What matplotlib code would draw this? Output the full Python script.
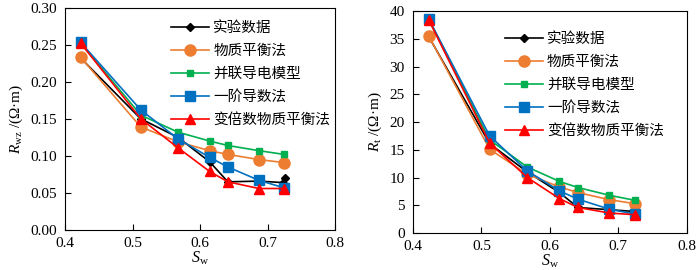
import matplotlib
matplotlib.use("Agg")
import matplotlib.pyplot as plt
import numpy as np

plt.rcParams['font.family'] = ['Liberation Serif', 'Noto Sans CJK SC']
plt.rcParams['mathtext.fontset'] = 'custom'
plt.rcParams['mathtext.rm'] = 'Liberation Serif'
plt.rcParams['mathtext.it'] = 'Liberation Serif:italic'

# water saturation
sw = [0.423, 0.512, 0.567, 0.614, 0.641, 0.687, 0.724]
sw_exp = [0.423, 0.512, 0.567, 0.614, 0.641, 0.687, 0.722, 0.725]

labels = ["实验数据", "物质平衡法", "并联导电模型", "一阶导数法", "变倍数物质平衡法"]

# left panel: Rwz
rwz_exp = [0.232, 0.150, 0.125, 0.092, 0.065, 0.066, 0.064, 0.070]
rwz_mb = [0.233, 0.139, 0.119, 0.107, 0.102, 0.095, 0.091]
rwz_par = [0.252, 0.155, 0.132, 0.120, 0.114, 0.107, 0.102]
rwz_deriv = [0.253, 0.162, 0.123, 0.098, 0.085, 0.067, 0.057]
rwz_var = [0.252, 0.150, 0.111, 0.079, 0.065, 0.056, 0.056]

# right panel: Rt
rt_exp = [35.4, 16.1, 11.0, 7.3, 4.6, 4.2, 3.9, 3.9]
rt_mb = [35.5, 15.1, 10.6, 8.3, 7.3, 6.0, 5.3]
rt_par = [38.5, 16.8, 11.9, 9.3, 8.2, 6.8, 5.9]
rt_deriv = [38.6, 17.5, 11.2, 7.6, 6.1, 4.3, 3.4]
rt_var = [38.4, 16.2, 10.0, 6.2, 4.6, 3.6, 3.3]

colors = ["black", "#ED7D31", "#00B050", "#0070C0", "#FF0000"]
markers = ["D", "o", "s", "s", "^"]
msizes = [4.5, 8, 5, 7, 7]

fig = plt.figure(figsize=(7, 2.7), dpi=100)
ax1 = fig.add_axes([0.093, 0.148, 0.386, 0.824])
ax2 = fig.add_axes([0.590, 0.137, 0.391, 0.822])


def draw(ax, series, ylim, yticks, yfmt, ylabel, anchor):
    xs = [sw_exp, sw, sw, sw, sw]
    for i, ys in enumerate(series):
        ax.plot(xs[i], ys, color=colors[i], marker=markers[i], ms=msizes[i],
                lw=1.2, label=labels[i], zorder=2 + i)
    ax.set_xlim(0.4, 0.8)
    ax.set_xticks(np.arange(0.4, 0.81, 0.1))
    ax.set_xticklabels(["0.4", "0.5", "0.6", "0.7", "0.8"])
    ax.set_ylim(*ylim)
    ax.set_yticks(yticks)
    ax.set_yticklabels([yfmt.format(v) for v in yticks])
    ax.tick_params(direction="in", labelsize=11, length=4)
    ax.tick_params(axis="x", pad=5)
    ax.tick_params(axis="y", pad=6)
    ax.set_xlabel(r"$S_{\mathrm{w}}$", fontsize=11.5, labelpad=0)
    ax.set_ylabel(ylabel, fontsize=11, labelpad=4)
    ax.legend(loc="upper right", frameon=False, handlelength=2.6,
              handletextpad=0.3, labelspacing=0.62,
              prop={'family': 'Noto Sans CJK SC', 'size': 10.5},
              bbox_to_anchor=anchor)


draw(ax1, [rwz_exp, rwz_mb, rwz_par, rwz_deriv, rwz_var], (0, 0.30),
     np.arange(0, 0.301, 0.05), "{:.2f}", r"$R_{\mathrm{wz}}$ /(Ω·m)", (1.03, 1.0))
draw(ax2, [rt_exp, rt_mb, rt_par, rt_deriv, rt_var], (0, 40),
     np.arange(0, 41, 5), "{:.0f}", r"$R_{\mathrm{t}}$ /(Ω·m)", (0.965, 0.965))

fig.savefig("out.png", dpi=100)
